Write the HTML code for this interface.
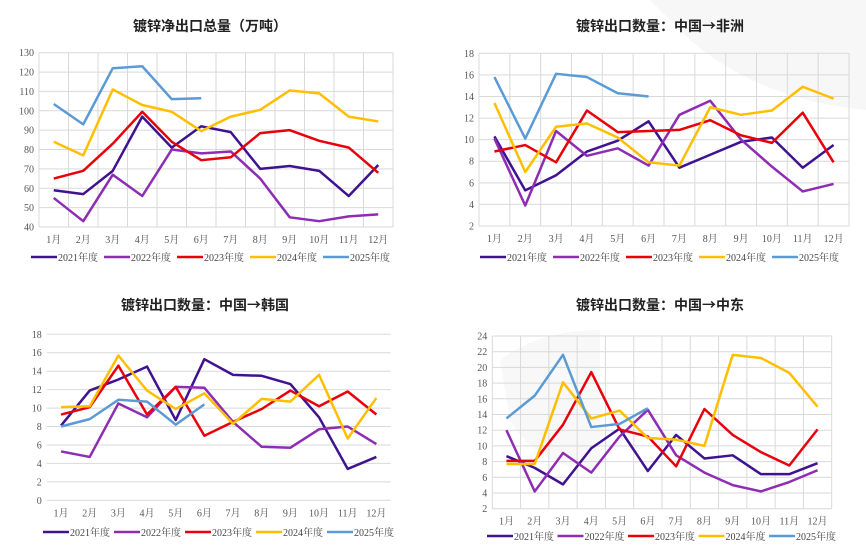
<!DOCTYPE html>
<html><head><meta charset="utf-8"><style>
body{margin:0;background:#fff;width:866px;height:551px;overflow:hidden;font-family:"Liberation Sans","Noto Sans CJK SC",sans-serif}
svg text{font-family:"Liberation Serif","Noto Serif CJK SC",serif}
svg text.title{font-family:"Noto Sans CJK SC",sans-serif}
</style></head><body>
<svg id="s" width="866" height="551">
<path d="M650 0 L866 0 L866 110 Q760 100 690 40Z" fill="#f7f7f7"/>
<path d="M500 360 Q540 330 600 330 L600 470 Q540 470 510 420Z" fill="#f8f8f8"/>
</svg>
<script>
const months=["1月","2月","3月","4月","5月","6月","7月","8月","9月","10月","11月","12月"];
const years=["2021年度","2022年度","2023年度","2024年度","2025年度"];
const colors=["#3f1290","#8e2db3","#e8000b","#ffbf00","#5b9bd5"];
const c1_2021=[59,57,69,97,81,92,89,70,71.5,69,56,72];
const c1_2022=[55,43,67,56,80,78,79,65,45,43,45.5,46.5];
const c1_2023=[65,69,83,99.5,84,74.5,76,88.5,90,84.5,81,68];
const c1_2024=[84,77,111,103,99.5,89.5,97,100.5,110.5,109,97,94.5];
const c1_2025=[103.5,93,122,123,106,106.5];
const c2_2021=[10.3,5.3,6.7,8.9,9.9,11.7,7.4,8.6,9.8,10.2,7.4,9.5];
const c2_2022=[10.1,3.9,10.8,8.5,9.2,7.6,12.3,13.6,10,7.5,5.2,5.9];
const c2_2023=[8.9,9.5,7.9,12.7,10.7,10.8,10.9,11.8,10.4,9.7,12.5,7.9];
const c2_2024=[13.4,7,11.2,11.5,10.2,7.9,7.6,13,12.3,12.7,14.9,13.8];
const c2_2025=[15.8,10.1,16.1,15.8,14.3,14];
const c3_2021=[8.1,11.9,13.1,14.5,8.7,15.3,13.6,13.5,12.6,9,3.4,4.7];
const c3_2022=[5.3,4.7,10.5,9,12.3,12.2,8.5,5.8,5.7,7.7,8,6.1];
const c3_2023=[9.3,10.1,14.6,9.3,12.3,7,8.5,9.9,11.9,10.2,11.8,9.3];
const c3_2024=[10.1,10.2,15.7,11.9,9.9,11.6,8.3,11,10.7,13.6,6.7,11.1];
const c3_2025=[8,8.8,10.9,10.7,8.2,10.4];
const c4_2021=[8.7,7.2,5.1,9.7,12.2,6.8,11.4,8.4,8.8,6.4,6.4,7.8];
const c4_2022=[12,4.2,9.1,6.6,11.2,14.6,8.8,6.6,5,4.2,5.4,6.9];
const c4_2023=[8.1,8.1,12.7,19.4,12.1,11.2,7.4,14.7,11.4,9.2,7.5,12.1];
const c4_2024=[7.7,7.7,18.1,13.5,14.5,11,10.8,10,21.6,21.2,19.3,15];
const c4_2025=[13.5,16.4,21.6,12.4,12.8,14.8];
const titles=["镀锌净出口总量（万吨）","镀锌出口数量：中国→非洲","镀锌出口数量：中国→韩国","镀锌出口数量：中国→中东"];
const ticks1=[40,50,60,70,80,90,100,110,120,130];
const ticks2=[2,4,6,8,10,12,14,16,18];
const ticks3=[0,2,4,6,8,10,12,14,16,18];
const ticks4=[2,4,6,8,10,12,14,16,18,20,22,24];
const NS="http://www.w3.org/2000/svg";
const svg=document.getElementById('s');
function el(t,a,p){const e=document.createElementNS(NS,t);for(const k in a)e.setAttribute(k,a[k]);(p||svg).appendChild(e);return e;}
const cfgs=[
{ser:[c1_2021,c1_2022,c1_2023,c1_2024,c1_2025],ticks:ticks1,l:39,r:393,t:52.7,b:227,vg:true,ty:31,tx:210,ly:261,lx:31,ls:73},
{ser:[c2_2021,c2_2022,c2_2023,c2_2024,c2_2025],ticks:ticks2,l:479,r:849,t:53.3,b:226,vg:true,ty:31,tx:660,ly:261,lx:480,ls:73},
{ser:[c3_2021,c3_2022,c3_2023,c3_2024,c3_2025],ticks:ticks3,l:46.7,r:390.7,t:334.3,b:500.3,vg:false,ty:310,tx:205,ly:536,lx:43,ls:71},
{ser:[c4_2021,c4_2022,c4_2023,c4_2024,c4_2025],ticks:ticks4,l:492.3,r:831.7,t:336,b:508.7,vg:true,ty:310,tx:660,ly:540,lx:487,ls:70.5}
];
cfgs.forEach((c,ci)=>{
  const g=el('g',{});
  
  
  const mn=c.ticks[0],mx=c.ticks[c.ticks.length-1];
  const y=v=>c.b-(v-mn)/(mx-mn)*(c.b-c.t);
  const cw=(c.r-c.l)/12;
  const x=i=>c.l+cw*(i+0.5);
  const tt=el('text',{x:c.tx,y:c.ty,'text-anchor':'middle','font-size':14,'font-weight':'bold',fill:'#222',class:'title'},g);
  tt.textContent=titles[ci];
  
  
  c.ticks.forEach(v=>{
    el('line',{x1:c.l,x2:c.r,y1:y(v),y2:y(v),stroke:'#d9d9d9','stroke-width':1},g);
    const t=el('text',{x:c.l-5,y:y(v)+3.5,'text-anchor':'end','font-size':10,fill:'#555'},g);
    t.textContent=v;
    
    
  });
  if(c.vg){for(let i=0;i<=12;i++)el('line',{x1:c.l+cw*i,x2:c.l+cw*i,y1:c.t,y2:c.b,stroke:'#d9d9d9','stroke-width':1},g);}
  months.forEach((m,i)=>{
    const t=el('text',{x:x(i),y:c.b+16,'text-anchor':'middle','font-size':10,fill:'#555'},g);
    t.textContent=m;
    
    
  });
  c.ser.forEach((s,si)=>{
    const p=el('polyline',{points:s.map((v,i)=>x(i)+','+y(v)).join(' '),fill:'none',stroke:colors[si],'stroke-width':2.5,'stroke-linejoin':'round'},g);
    
    
    const lx=c.lx+c.ls*si;
    const lg=el('g',{},g);
    
    
    el('line',{x1:lx,x2:lx+26,y1:c.ly-4,y2:c.ly-4,stroke:colors[si],'stroke-width':2.5},lg);
    const t=el('text',{x:lx+27,y:c.ly,'font-size':10,fill:'#444'},lg);
    t.textContent=years[si];
  });
});
</script>
</body></html>
